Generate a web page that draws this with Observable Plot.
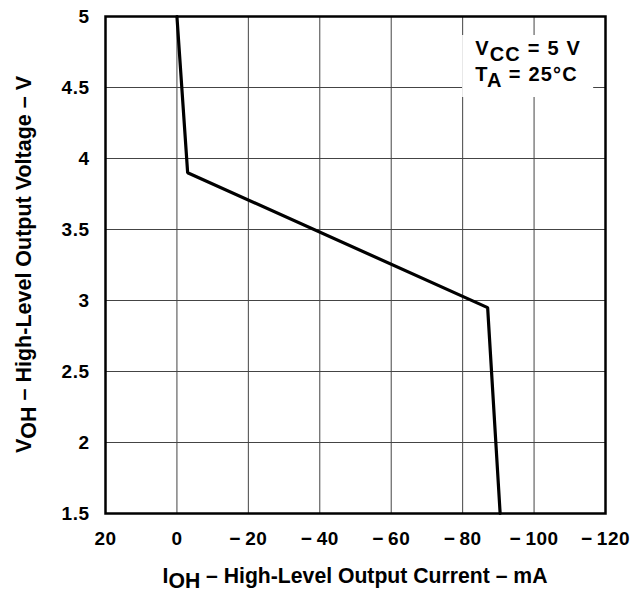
<!DOCTYPE html>
<html><head><meta charset="utf-8">
<script src="https://cdn.jsdelivr.net/npm/d3@7"></script>
<script src="https://cdn.jsdelivr.net/npm/@observablehq/plot@0.6"></script>
<style>body{margin:0;background:#fff} svg text{font-weight:bold}</style>
</head><body><div id="chart"></div>
<script>
const currentMA = [0, -3, -87, -90.5];
const voltageV = [5, 3.9, 2.95, 1.5];
const xTicks = [20, 0, -20, -40, -60, -80, -100, -120];
const yTicks = [1.5, 2, 2.5, 3, 3.5, 4, 4.5, 5];
const xGrid = [0, -20, -40, -60, -80, -100];
const yGrid = [2, 2.5, 3, 3.5, 4, 4.5];
const noteLines = [["V", "CC", " = 5 V"], ["T", "A", " = 25°C"]];
const xTitle = ["I", "OH", " – High-Level Output Current – mA"];
const yTitle = ["V", "OH", " – High-Level Output Voltage – V"];

const data = currentMA.map((c, i) => ({c, v: voltageV[i]}));
const fmt = d => d < 0 ? "−\u2009" + (-d) : String(d);
const FONT = "'Liberation Sans', Arial, sans-serif";

const svg = Plot.plot({
  width: 640, height: 595,
  marginLeft: 105, marginRight: 35, marginTop: 16, marginBottom: 82,
  style: {fontFamily: FONT, fontWeight: "bold", background: "white", color: "black", overflow: "visible"},
  x: {domain: [20, -120]},
  y: {domain: [1.5, 5]},
  marks: [
    Plot.ruleX(xGrid, {stroke: "#444", strokeWidth: 1}),
    Plot.ruleY(yGrid, {stroke: "#444", strokeWidth: 1}),
    Plot.line(data, {x: "c", y: "v", stroke: "black", strokeWidth: 3.2, strokeLinejoin: "miter"}),
    Plot.frame({stroke: "black", strokeWidth: 2.5}),
    Plot.axisX({ticks: xTicks, tickFormat: fmt, tickSize: 0, tickPadding: 18, label: null, fontSize: 19, fontWeight: "bold"}),
    Plot.axisY({ticks: yTicks, tickFormat: d => String(d), tickSize: 0, tickPadding: 16, label: null, fontSize: 19, fontWeight: "bold"})
  ]
});
document.getElementById("chart").appendChild(svg);

const xs = svg.scale("x"), ys = svg.scale("y");
const s = d3.select(svg);
s.selectAll("text").attr("letter-spacing", "0.5px").attr("fill", "black");
// annotation box
const bx = xs.apply(-80), by = ys.apply(5);
s.append("rect").attr("x", bx).attr("y", by + 19).attr("width", 131).attr("height", 62).attr("fill", "white");
const note = s.append("g").attr("font-family", FONT).attr("font-weight", "bold").attr("font-size", 20)
  .attr("letter-spacing", "1.2px").attr("text-anchor", "start");
noteLines.forEach((parts, i) => {
  const t = note.append("text").attr("x", bx + 13).attr("y", by + 39 + i * 26);
  t.append("tspan").text(parts[0]);
  t.append("tspan").attr("dy", 6).text(parts[1]);
  t.append("tspan").attr("dy", -6).text(parts[2]);
});
// axis titles
const midX = (xs.range[0] + xs.range[1]) / 2;
const midY = (ys.range[0] + ys.range[1]) / 2;
const tx = s.append("text").attr("x", midX).attr("y", 583).attr("text-anchor", "middle")
  .attr("font-family", FONT).attr("font-weight", "bold").attr("font-size", 21.2);
tx.append("tspan").text(xTitle[0]);
tx.append("tspan").attr("dy", 5).text(xTitle[1]);
tx.append("tspan").attr("dy", -5).text(xTitle[2]);
const ty = s.append("text").attr("transform", `translate(31,${midY}) rotate(-90)`).attr("text-anchor", "middle")
  .attr("font-family", FONT).attr("font-weight", "bold").attr("font-size", 21.5);
ty.append("tspan").text(yTitle[0]);
ty.append("tspan").attr("dy", 5).text(yTitle[1]);
ty.append("tspan").attr("dy", -5).text(yTitle[2]);
</script></body></html>
